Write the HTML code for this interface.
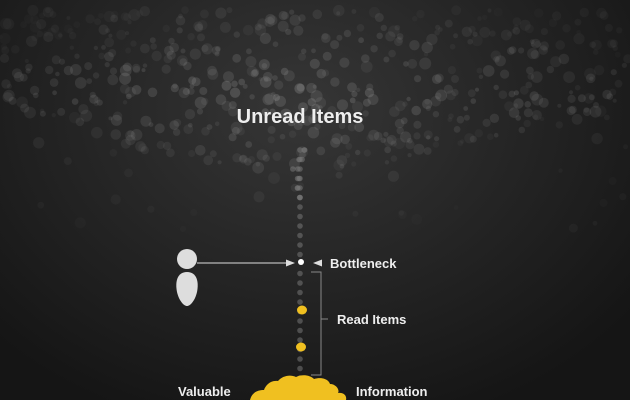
<!DOCTYPE html>
<html><head><meta charset="utf-8"><style>
html,body{margin:0;padding:0}
body{width:630px;height:400px;overflow:hidden;background:radial-gradient(ellipse 420px 330px at 300px 110px,#363636 0%,#272727 45%,#151515 100%);font-family:"Liberation Sans",sans-serif}
svg{position:absolute;left:0;top:0}
</style></head><body>
<svg id="s" width="630" height="400" viewBox="0 0 630 400">
<g id="cloud"></g>
<text x="300" y="123" text-anchor="middle" fill="#eee" font-size="20" font-weight="bold" font-family="Liberation Sans,sans-serif">Unread Items</text>
<circle cx="187" cy="259" r="10" fill="#ddd"/>
<path d="M187 272 C197 272 199 282 197 292 C195 301 190 306 187 306 C184 306 179 301 177 292 C175 282 177 272 187 272Z" fill="#ddd"/>
<line x1="197" y1="263" x2="288" y2="263" stroke="#ddd" stroke-width="1"/>
<polygon points="286,259.5 295,263 286,266.5" fill="#ddd"/>
<circle cx="301" cy="262" r="3" fill="#fff"/>
<polygon points="322,259.5 313,263 322,266.5" fill="#ddd"/>
<text x="330" y="268" fill="#eee" font-size="13" font-weight="bold">Bottleneck</text>
<path d="M311 272 H321 V375 H311 M321 319 H328" fill="none" stroke="#888" stroke-width="1"/>
<text x="337" y="324" fill="#eee" font-size="13" font-weight="bold">Read Items</text>
<ellipse cx="302" cy="310" rx="5" ry="4.5" fill="#f0c020"/>
<ellipse cx="301" cy="347" rx="5" ry="4.5" fill="#f0c020"/>
<path d="M250 400 C252 392 258 390 264 390 C266 384 272 380 278 381 C282 376 290 374 296 377 C302 374 310 375 314 379 C320 377 328 378 330 384 C336 384 340 390 338 393 C344 392 347 396 346 400Z" fill="#f0c020"/>
<text x="178" y="396" fill="#eee" font-size="13" font-weight="bold">Valuable</text>
<text x="356" y="396" fill="#eee" font-size="13" font-weight="bold">Information</text>
</svg>
<script>
var seed=7;function r(){seed=(seed*16807)%2147483647;return seed/2147483647;}
var g=document.getElementById("cloud"),h="";
for(var i=0;i<900;i++){
 var x=r()*630,y=10+r()*220;
 var spread=Math.abs(x-300);
 var top=20+spread*0.05, bot=190-spread*0.25;
 if(y<top||y>bot){ if(r()>0.06) continue; }
 var dc=Math.abs(y-90)/110+spread/450;
 var op=Math.max(0.06,0.3-dc*0.2)*(0.4+r()*0.7);
 var rad=2+r()*4;
 h+='<circle cx="'+x.toFixed(1)+'" cy="'+y.toFixed(1)+'" r="'+rad.toFixed(1)+'" fill="#999" fill-opacity="'+op.toFixed(2)+'"/>';
}
for(var y=150;y<382;y+=9.5){
 var n=y<200?3:1;
 for(var k=0;k<n;k++){
  var xx=300+(k?(r()-0.5)*(200-y)*0.5:0);
  if(Math.abs(y-262)<6)continue;
  h+='<circle cx="'+xx.toFixed(1)+'" cy="'+y.toFixed(1)+'" r="2.8" fill="#777" fill-opacity="0.55"/>';
 }
}
g.innerHTML=h;
</script>
</body></html>
